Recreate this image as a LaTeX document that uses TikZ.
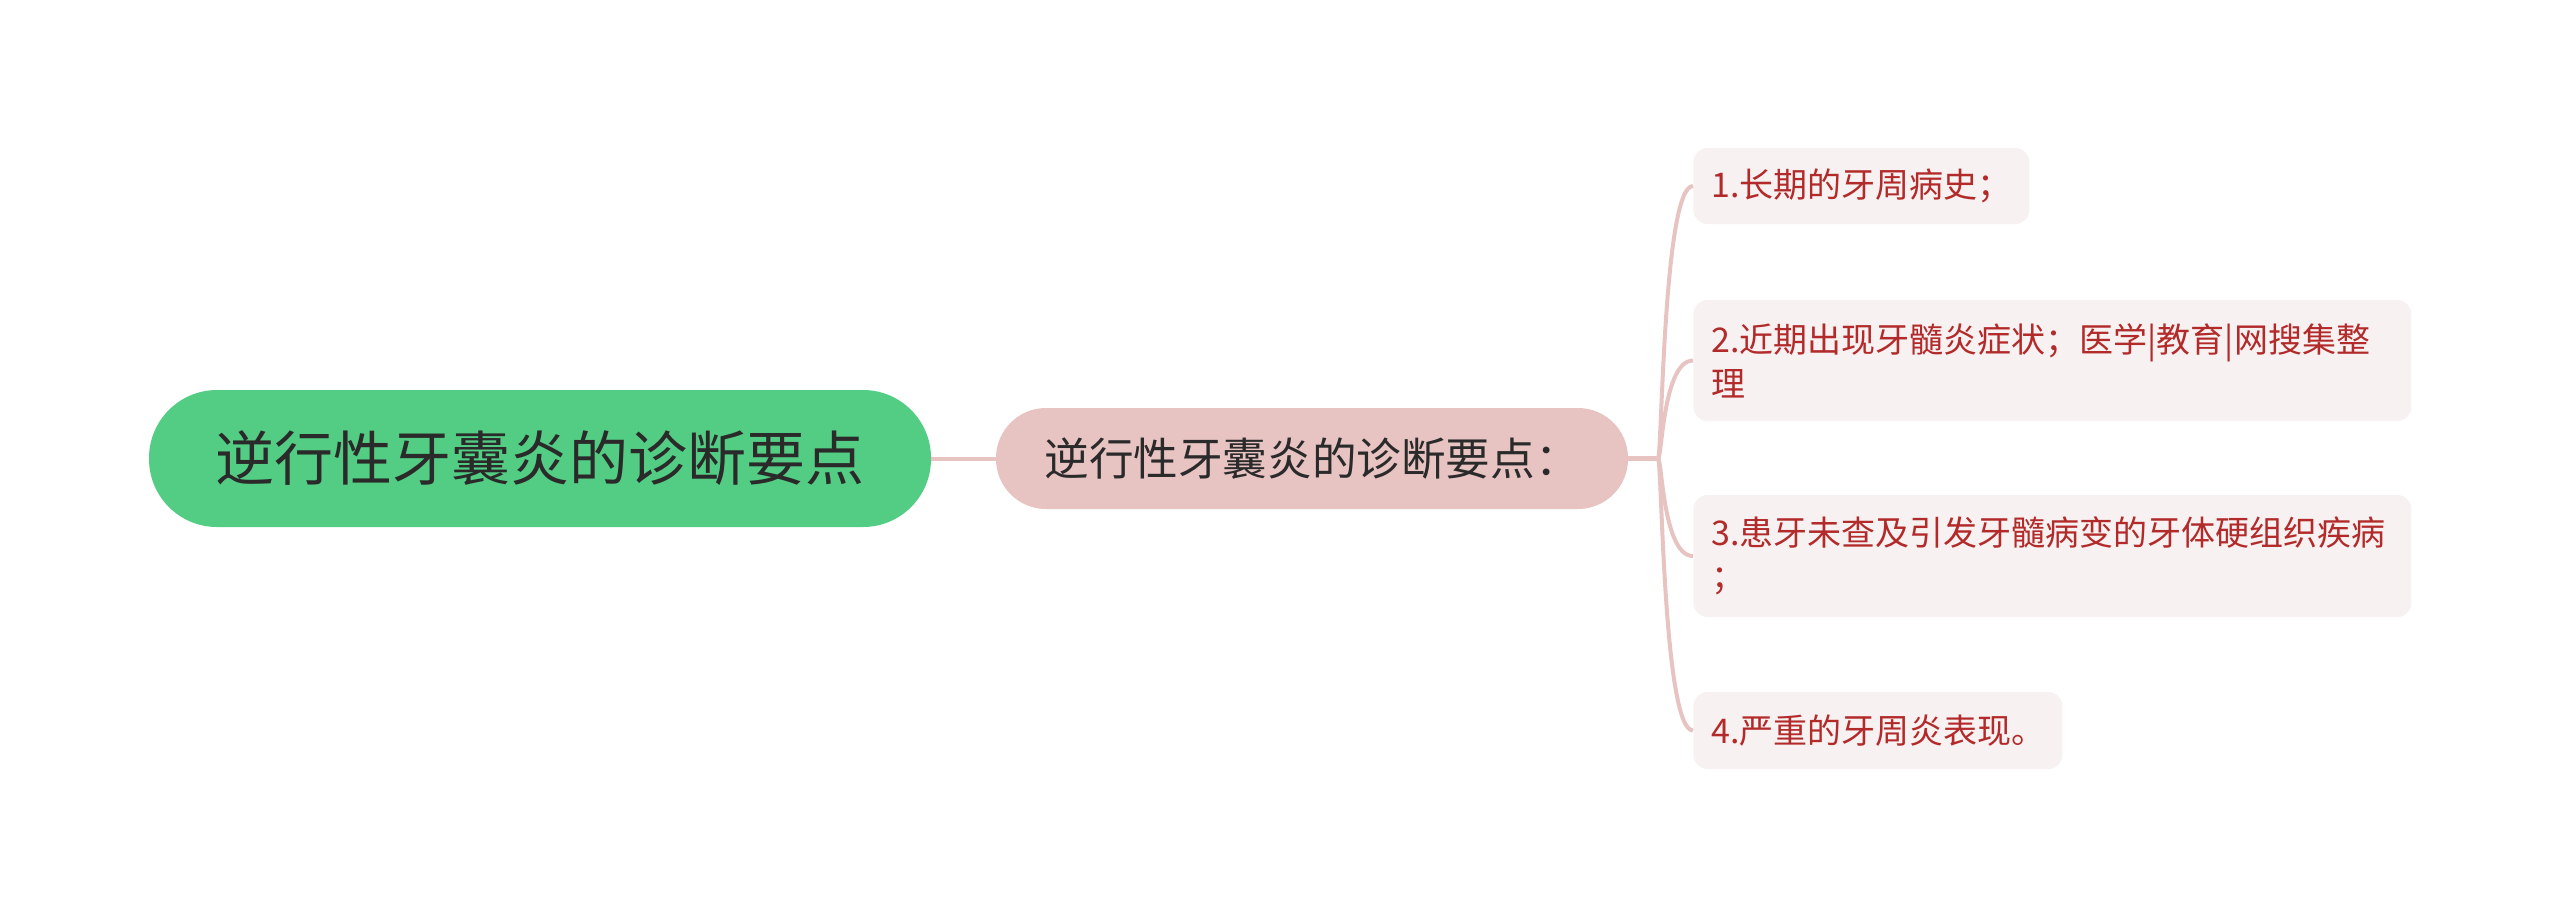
\documentclass[tikz,border=0pt]{standalone}
\usepackage{fontspec}
\setmainfont{Noto Sans CJK SC}
\definecolor{rootgreen}{HTML}{53CC84}
\definecolor{midpink}{HTML}{E7C3C2}
\definecolor{leaffill}{HTML}{F8F1F1}
\definecolor{leafred}{HTML}{B22A2A}
\definecolor{conncol}{HTML}{E7C3C2}
\definecolor{darktext}{HTML}{2A2A2A}
\begin{document}
\begin{tikzpicture}[x=0.5pt,y=-0.5pt,
  rootbox/.style={fill=rootgreen, rounded corners=34pt, minimum width=391pt, minimum height=68.5pt, inner sep=0pt, font=\fontsize{29.5}{36}\selectfont, text=darktext},
  midbox/.style={fill=midpink, rounded corners=25pt, minimum width=316pt, minimum height=50.5pt, inner sep=0pt, font=\fontsize{22.3}{27}\selectfont, text=darktext},
  leafbox/.style={fill=leaffill, rounded corners=7pt, anchor=west, inner xsep=9pt, inner ysep=0pt, align=left, font=\fontsize{17}{22}\selectfont, text=leafred},
  conn/.style={draw=conncol, line width=2pt},
  trunk/.style={draw=conncol, line width=2.5pt},
  rootconn/.style={draw=conncol, line width=2pt}]
\useasboundingbox (0,0) rectangle (2560,917);
\node[rootbox] (root) at (540,458.5) {逆行性牙囊炎的诊断要点};
\node[midbox] (mid) at (1312,458.5) {逆行性牙囊炎的诊断要点：};
\node[leafbox, text width=150pt, minimum height=38pt] (l1) at (1693,186) {1.长期的牙周病史；};
\node[leafbox, text width=341pt, minimum height=60.5pt] (l2) at (1693,360.5) {2.近期出现牙髓炎症状；医学|教育|网搜集整\\理};
\node[leafbox, text width=341pt, minimum height=61pt] (l3) at (1693,556) {3.患牙未查及引发牙髓病变的牙体硬组织疾病\\；};
\node[leafbox, text width=166.5pt, minimum height=38.5pt] (l4) at (1693,730.5) {4.严重的牙周炎表现。};
\coordinate (fork) at (1658,458.5);
\draw[rootconn] (root.east) -- (mid.west);
\draw[trunk] (mid.east) -- (fork);
\foreach \n in {l1,l2,l3,l4}{
  \draw[conn] (fork) .. controls +(4,0) and +(-30,0) .. (\n.west);
}
\end{tikzpicture}
\end{document}
